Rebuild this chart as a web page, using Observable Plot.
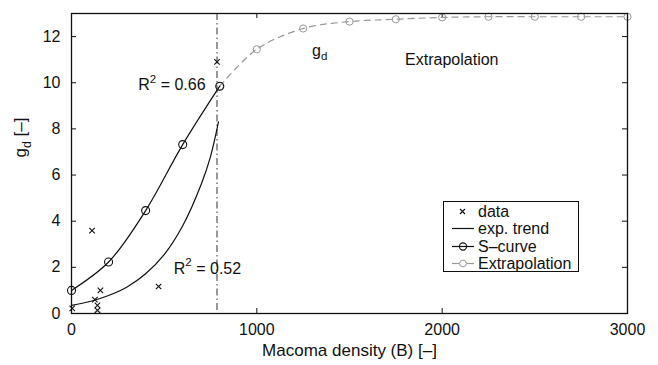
<!DOCTYPE html>
<html>
<head>
<meta charset="utf-8">
<script src="https://cdn.jsdelivr.net/npm/d3@7"></script>
<script src="https://cdn.jsdelivr.net/npm/@observablehq/plot@0.6"></script>
<style>
  html, body { margin: 0; padding: 0; background: white; }
  #wrap { position: relative; width: 658px; height: 365px; font-family: "Liberation Sans", Arial, sans-serif; }
  #legend { position: absolute; left: 443px; top: 201px; width: 136px; height: 71px; border: 1.5px solid #111; background: white; box-sizing: border-box; font-size: 16px; color: #111; padding-top: 1px; }
  .row { display: flex; align-items: center; height: 17.3px; }
  .row svg { width: 34px; height: 17px; flex: none; }
  .row span { line-height: 17px; }
</style>
</head>
<body>
<div id="wrap"><div id="legend"></div></div>
<script>
// ---- data ----
const xTicks = [0, 1000, 2000, 3000];
const yTicks = [0, 2, 4, 6, 8, 10, 12];

const dataX = [4, 111, 126, 140, 140, 156, 470, 785];
const dataY = [0.22, 3.59, 0.6, 0.35, 0.14, 1.0, 1.17, 10.9];

const expX = [0, 100, 200, 300, 400, 500, 600, 700, 750, 793];
const expY = [0.35, 0.52, 0.78, 1.15, 1.72, 2.55, 3.8, 5.6, 6.8, 8.3];

const sX = [0, 200, 400, 600, 800];
const sY = [1.0, 2.23, 4.46, 7.32, 9.85];

const extX = [800, 1000, 1250, 1500, 1750, 2000, 2250, 2500, 2750, 3000];
const extY = [9.85, 11.45, 12.35, 12.65, 12.75, 12.83, 12.86, 12.86, 12.86, 12.86];

const cutoffX = [785];

const annotations = [
  {x: 360, y: 9.9, text: "R^2 = 0.66"},
  {x: 552, y: 1.95, text: "R^2 = 0.52"},
  {x: 1298, y: 11.4, text: "g_d"},
  {x: 1800, y: 11.0, text: "Extrapolation"}
];

const legendItems = ["data", "exp. trend", "S\u2013curve", "Extrapolation"];

// ---- build tables ----
const zip = (xs, ys) => xs.map((x, i) => ({x, y: ys[i]}));
const dataPts = zip(dataX, dataY);
const expPts = zip(expX, expY);
const sPts = zip(sX, sY);
const extPts = zip(extX, extY);

const gray = "#999";
const W = 658, H = 365, mL = 71, mR = 31, mT = 13, mB = 52;
const pw = W - mL - mR, ph = H - mT - mB;

const chart = Plot.plot({
  width: W, height: H,
  marginLeft: mL, marginRight: mR, marginTop: mT, marginBottom: mB,
  x: {domain: [0, 3000]},
  y: {domain: [0, 13]},
  style: {fontFamily: "'Liberation Sans', Arial, sans-serif", fontSize: "16px", color: "#111", background: "white"},
  marks: [
    Plot.axisX(xTicks, {tickSize: 0, tickPadding: 10, fontSize: 16, label: null, tickFormat: d => String(d)}),
    Plot.axisY(yTicks, {tickSize: 0, tickPadding: 11, fontSize: 16, label: null, tickFormat: d => String(d)}),
    Plot.tickX(xTicks, {x: d => d, insetTop: ph - 5, stroke: "#111"}),
    Plot.tickX(xTicks, {x: d => d, insetBottom: ph - 5, stroke: "#111"}),
    Plot.tickY(yTicks, {y: d => d, insetRight: pw - 5, stroke: "#111"}),
    Plot.tickY(yTicks, {y: d => d, insetLeft: pw - 5, stroke: "#111"}),
    Plot.ruleX(cutoffX, {x: d => d, stroke: "#333", strokeWidth: 1, strokeDasharray: "7,3,1.5,3"}),
    Plot.line(extPts, {x: "x", y: "y", stroke: gray, strokeWidth: 1.2, strokeDasharray: "6,5", curve: "catmull-rom"}),
    Plot.dot(extPts, {x: "x", y: "y", r: 3.6, stroke: gray, fill: "none", strokeWidth: 1}),
    Plot.line(expPts, {x: "x", y: "y", stroke: "#111", strokeWidth: 1.2, curve: "catmull-rom"}),
    Plot.line(sPts, {x: "x", y: "y", stroke: "#111", strokeWidth: 1.2, curve: "catmull-rom"}),
    Plot.dot(sPts, {x: "x", y: "y", r: 4, stroke: "#111", fill: "none", strokeWidth: 1.1}),
    Plot.dot(dataPts, {x: "x", y: "y", symbol: "times", r: 2.6, stroke: "#111", strokeWidth: 1.1}),
    Plot.text(annotations, {x: "x", y: "y", text: "text", textAnchor: "start", fontSize: 16, fill: "#111"}),
    Plot.text(["Macoma density (B) [\u2013]"], {frameAnchor: "bottom", dy: 42, fontSize: 17, fill: "#111"}),
    Plot.text(["g_d [\u2013]"], {frameAnchor: "left", rotate: -90, dx: -51, dy: -6, fontSize: 17, fill: "#111"}),
    Plot.frame({stroke: "#111", strokeWidth: 1.3})
  ]
});

// super/subscript post-processing
function richify(el) {
  const s = el.textContent;
  if (!/[\^_]/.test(s)) return;
  const parts = s.split(/([\^_]\w)/).filter(p => p.length);
  while (el.firstChild) el.removeChild(el.firstChild);
  const ns = "http://www.w3.org/2000/svg";
  let shift = 0;
  for (const p of parts) {
    const t = document.createElementNS(ns, "tspan");
    if (p[0] === "^" || p[0] === "_") {
      const d = p[0] === "^" ? -0.45 : 0.3;
      t.setAttribute("font-size", "72%");
      t.setAttribute("dy", (d / 0.72) + "em");
      t.textContent = p.slice(1);
      shift = d;
    } else {
      if (shift !== 0) t.setAttribute("dy", (-shift) + "em");
      t.textContent = p;
      shift = 0;
    }
    el.appendChild(t);
  }
}
chart.querySelectorAll("text").forEach(richify);

document.getElementById("wrap").prepend(chart);

// legend
const ns = "http://www.w3.org/2000/svg";
const leg = document.getElementById("legend");
legendItems.forEach((label, i) => {
  const row = document.createElement("div");
  row.className = "row";
  let sym = "";
  if (i === 0) sym = `<path d="M16,6 L21,11 M21,6 L16,11" stroke="#111" stroke-width="1.1"/>`;
  if (i === 1) sym = `<line x1="8" y1="8.5" x2="30" y2="8.5" stroke="#111" stroke-width="1.2"/>`;
  if (i === 2) sym = `<line x1="8" y1="8.5" x2="30" y2="8.5" stroke="#111" stroke-width="1.2"/><circle cx="19" cy="8.5" r="3.6" fill="none" stroke="#111" stroke-width="1.1"/>`;
  if (i === 3) sym = `<line x1="8" y1="8.5" x2="30" y2="8.5" stroke="${gray}" stroke-width="1.2"/><circle cx="19" cy="8.5" r="3.4" fill="white" stroke="${gray}" stroke-width="1"/>`;
  row.innerHTML = `<svg xmlns="${ns}" viewBox="0 0 34 17">${sym}</svg><span>${label}</span>`;
  leg.appendChild(row);
});
</script>
</body>
</html>
